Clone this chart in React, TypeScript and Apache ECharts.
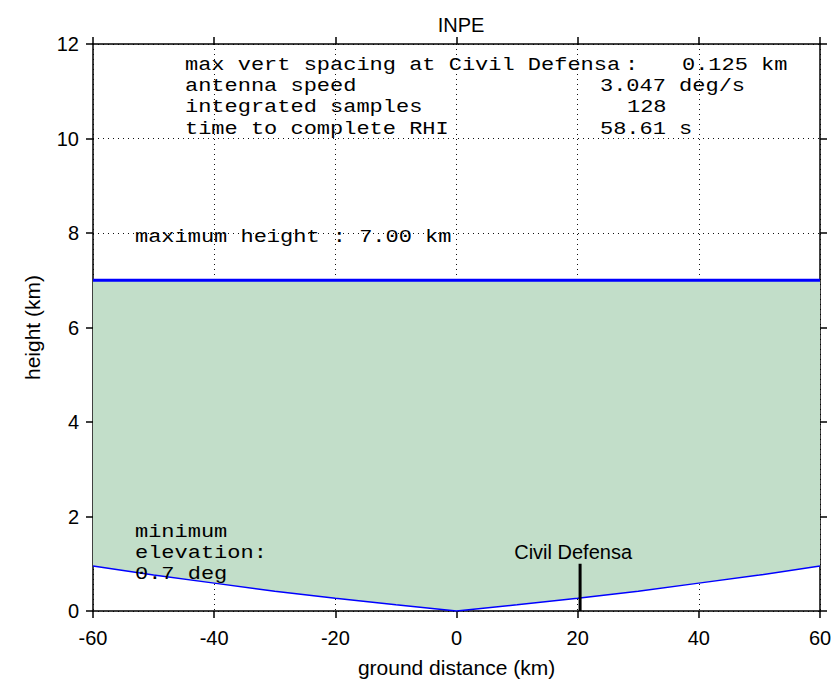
import React, { useEffect, useRef } from "react";
import * as echarts from "echarts";

// ground distance (km)
const distances = [-60, -50, -40, -30, -20, -10, 0, 10, 20, 30, 40, 50, 60];
// minimum elevation (0.7 deg) beam height (km)
const minElevHeight = [0.95, 0.76, 0.59, 0.42, 0.27, 0.13, 0, 0.13, 0.27, 0.42, 0.59, 0.76, 0.95];
// maximum height (km)
const maxHeight = 7.0;
// Civil Defensa site
const siteDistance = 20.4;
const siteMarkerTop = 1.0;
const siteName = "Civil Defensa";

const infoLabels = ["max vert spacing at Civil Defensa", "antenna speed", "integrated samples", "time to complete RHI"];
const infoValues = ["0.125 km", "3.047 deg/s", "128", "58.61 s"];

const MONO = "'Liberation Mono', 'DejaVu Sans Mono', monospace";
const SANS = "'Liberation Sans', Arial, sans-serif";

export default function App() {
  const ref = useRef<HTMLDivElement>(null);
  useEffect(() => {
    if (!ref.current) return;
    const chart = echarts.init(ref.current, null, { renderer: "svg" });

    const lower = distances.map((d, i) => [d, minElevHeight[i]]);
    const upper = distances.map((d) => [d, maxHeight]);
    const band = distances.map((d, i) => [d, minElevHeight[i], maxHeight]);

    const gridLine = { show: true, lineStyle: { color: "#111", type: [1, 4] as any, width: 1 } };
    const axisLine = { show: true, onZero: false, lineStyle: { color: "#000", width: 1.5 } };
    const tick = { show: true, inside: false, length: 7, lineStyle: { color: "#000", width: 1.5 } };

    const monoText = (text: string, x: number, y: number) => ({
      type: "text",
      x,
      y,
      scaleX: 1.222,
      z: 100,
      silent: true,
      style: {
        text,
        fill: "#000",
        font: `18px ${MONO}`,
        verticalAlign: "middle",
        align: "left",
      },
    });

    const rowY = [65, 86, 107, 129];
    const valueX = [682, 600, 627, 600];
    const graphics: any[] = [];
    infoLabels.forEach((t, i) => graphics.push(monoText(t, 185, rowY[i])));
    infoValues.forEach((t, i) => graphics.push(monoText(t, valueX[i], rowY[i])));
    graphics.push(monoText(":", 625, rowY[0]));
    graphics.push(monoText(`maximum height : ${maxHeight.toFixed(2)} km`, 135, 237));
    graphics.push(monoText("minimum", 135, 532.5));
    graphics.push(monoText("elevation:", 135, 553.5));
    graphics.push(monoText("0.7 deg", 135, 574.5));

    chart.setOption({
      animation: false,
      backgroundColor: "#fff",
      title: {
        text: "INPE",
        left: 456,
        textAlign: "center",
        top: 10,
        textStyle: { fontFamily: SANS, fontSize: 20, fontWeight: "normal", color: "#000" },
      },
      grid: { left: 93, right: 19, top: 44, bottom: 68 },
      xAxis: [
        {
          type: "value",
          min: -60,
          max: 60,
          interval: 20,
          position: "bottom",
          name: "ground distance (km)",
          nameLocation: "middle",
          nameGap: 46,
          nameTextStyle: { fontFamily: SANS, fontSize: 21, color: "#000" },
          axisLine,
          axisTick: tick,
          axisLabel: { fontFamily: SANS, fontSize: 20, color: "#000", margin: 17 },
          splitLine: gridLine,
        },
        {
          type: "value",
          min: -60,
          max: 60,
          interval: 20,
          position: "top",
          axisLine,
          axisTick: tick,
          axisLabel: { show: false },
          splitLine: { show: false },
        },
      ],
      yAxis: [
        {
          type: "value",
          min: 0,
          max: 12,
          interval: 2,
          position: "left",
          name: "height (km)",
          nameLocation: "middle",
          nameGap: 50,
          nameTextStyle: { fontFamily: SANS, fontSize: 21, color: "#000" },
          axisLine,
          axisTick: tick,
          axisLabel: { fontFamily: SANS, fontSize: 20, color: "#000", margin: 14 },
          splitLine: gridLine,
        },
        {
          type: "value",
          min: 0,
          max: 12,
          interval: 2,
          position: "right",
          axisLine,
          axisTick: tick,
          axisLabel: { show: false },
          splitLine: { show: false },
        },
      ],
      series: [
        {
          type: "custom",
          name: "coverage",
          data: band,
          silent: true,
          z: 1,
          renderItem: (params: any, api: any) => {
            if (params.dataIndex !== 0) return null;
            const top = band.map((b) => api.coord([b[0], b[2]]));
            const bottom = band.map((b) => api.coord([b[0], b[1]])).reverse();
            return {
              type: "polygon",
              shape: { points: top.concat(bottom) },
              style: { fill: "rgb(194,222,201)", stroke: "none" },
            };
          },
        },
        {
          type: "line",
          name: "max height",
          data: upper,
          showSymbol: false,
          symbol: "none",
          lineStyle: { color: "#0000ff", width: 3 },
          z: 3,
        },
        {
          type: "line",
          name: "min elevation",
          data: lower,
          showSymbol: false,
          symbol: "none",
          lineStyle: { color: "#0000ff", width: 1.5 },
          z: 3,
        },
        {
          type: "line",
          name: "site",
          data: [
            [siteDistance, 0],
            [siteDistance, siteMarkerTop],
          ],
          showSymbol: false,
          symbol: "none",
          lineStyle: { color: "#000", width: 3 },
          z: 4,
        },
      ],
      graphic: graphics,
    });

    const sitePx = chart.convertToPixel({ xAxisIndex: 0, yAxisIndex: 0 }, [siteDistance, siteMarkerTop]) as number[];
    chart.setOption({
      graphic: graphics.concat([
        {
          type: "text",
          x: sitePx[0] - 7,
          y: sitePx[1] - 2,
          z: 100,
          silent: true,
          style: {
            text: siteName,
            fill: "#000",
            font: `20px ${SANS}`,
            align: "center",
            verticalAlign: "bottom",
          },
        },
      ]),
    });
    return () => chart.dispose();
  }, []);
  return <div ref={ref} style={{ position: "fixed", left: 0, top: 0, width: 839, height: 683 }} />;
}
